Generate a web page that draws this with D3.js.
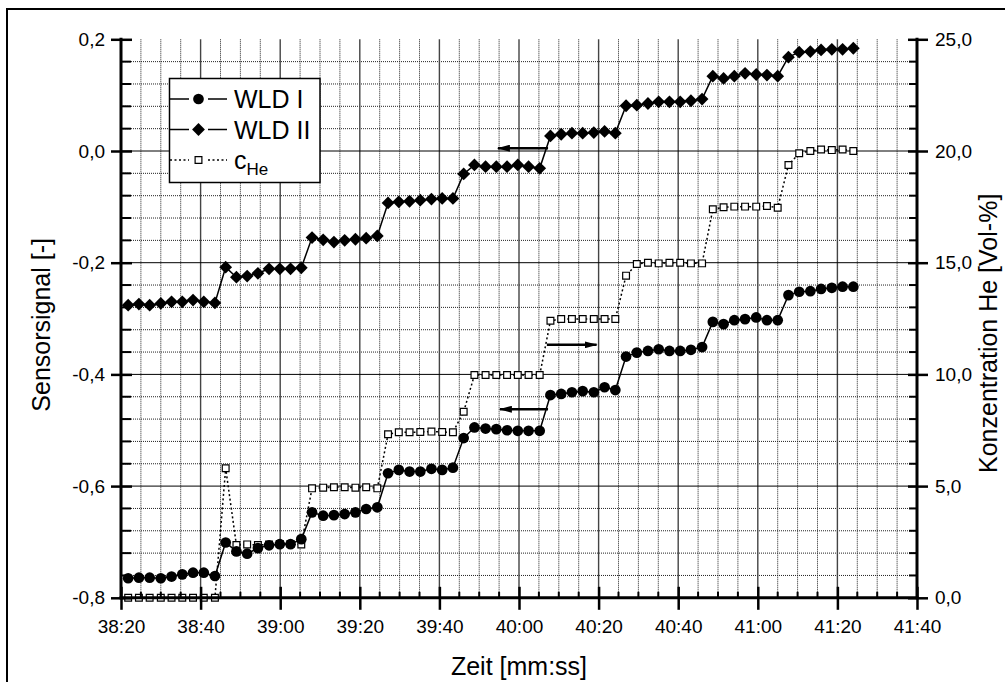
<!DOCTYPE html>
<html>
<head>
<meta charset="utf-8">
<script src="https://cdn.jsdelivr.net/npm/d3@7"></script>
<style>
  html, body { margin: 0; padding: 0; background: #fff; }
  svg { display: block; font-family: "Liberation Sans", Arial, sans-serif; }
</style>
</head>
<body>
<svg width="1005" height="682"></svg>
<script>
// Messzeitpunkte [s seit 0:00], 38:20 = 2300 s
const zeit = [
  2301.8, 2304.5, 2307.2, 2310.0, 2312.7, 2315.4, 2318.1, 2320.8, 2323.6,
  2326.3, 2329.0, 2331.7, 2334.4, 2337.2, 2339.9, 2342.6, 2345.3,
  2348.0, 2350.8, 2353.5, 2356.2, 2358.9, 2361.6, 2364.4,
  2367.1, 2369.8, 2372.5, 2375.2, 2378.0, 2380.7, 2383.4,
  2386.1, 2388.8, 2391.6, 2394.3, 2397.0, 2399.7, 2402.4, 2405.2,
  2407.9, 2410.6, 2413.3, 2416.0, 2418.8, 2421.5, 2424.2,
  2426.9, 2429.6, 2432.4, 2435.1, 2437.8, 2440.5, 2443.2, 2446.0,
  2448.7, 2451.4, 2454.1, 2456.8, 2459.6, 2462.3, 2465.0,
  2467.7, 2470.4, 2473.2, 2475.9, 2478.6, 2481.3, 2484.0
];

// Sensorsignal WLD I [-]
const wld1 = [
  -0.765, -0.764, -0.764, -0.765, -0.762, -0.758, -0.755, -0.755, -0.761,
  -0.701, -0.717, -0.721, -0.711, -0.706, -0.704, -0.704, -0.695,
  -0.647, -0.653, -0.652, -0.650, -0.647, -0.641, -0.638,
  -0.577, -0.571, -0.574, -0.574, -0.569, -0.571, -0.567,
  -0.514, -0.495, -0.497, -0.498, -0.500, -0.501, -0.501, -0.501,
  -0.437, -0.435, -0.432, -0.430, -0.432, -0.423, -0.428,
  -0.368, -0.361, -0.358, -0.355, -0.358, -0.358, -0.356, -0.351,
  -0.306, -0.310, -0.303, -0.301, -0.298, -0.303, -0.303,
  -0.258, -0.252, -0.251, -0.247, -0.245, -0.243, -0.243
];

// Sensorsignal WLD II [-]
const wld2 = [
  -0.276, -0.274, -0.276, -0.273, -0.270, -0.270, -0.267, -0.270, -0.272,
  -0.208, -0.226, -0.224, -0.219, -0.211, -0.211, -0.211, -0.209,
  -0.155, -0.159, -0.163, -0.160, -0.158, -0.156, -0.152,
  -0.093, -0.091, -0.090, -0.088, -0.086, -0.085, -0.085,
  -0.041, -0.025, -0.028, -0.028, -0.028, -0.025, -0.028, -0.031,
  0.027, 0.030, 0.032, 0.032, 0.033, 0.035, 0.032,
  0.081, 0.082, 0.085, 0.088, 0.088, 0.088, 0.090, 0.093,
  0.134, 0.130, 0.134, 0.139, 0.137, 0.136, 0.134,
  0.168, 0.177, 0.178, 0.181, 0.182, 0.182, 0.184
];

// Konzentration He [Vol-%]
const cHe = [
  0, 0, 0, 0, 0, 0, 0, 0, 0,
  5.80, 2.36, 2.39, 2.36, 2.39, 2.41, 2.41, 2.39,
  4.90, 4.93, 4.95, 4.95, 4.93, 4.95, 4.90,
  7.32, 7.41, 7.41, 7.42, 7.44, 7.42, 7.41,
  8.33, 9.97, 9.97, 9.97, 9.97, 9.97, 9.97, 9.97,
  12.40, 12.48, 12.48, 12.48, 12.48, 12.48, 12.48,
  14.42, 14.94, 15.00, 14.97, 15.00, 15.00, 14.97, 14.97,
  17.39, 17.48, 17.51, 17.51, 17.51, 17.54, 17.46,
  19.37, 19.90, 20.00, 20.07, 20.04, 20.07, 20.00
];

// Achsenbeschriftung
const zeitTicks = [2300, 2320, 2340, 2360, 2380, 2400, 2420, 2440, 2460, 2480, 2500];
const zeitLabels = ["38:20", "38:40", "39:00", "39:20", "39:40", "40:00", "40:20", "40:40", "41:00", "41:20", "41:40"];
const signalTicks = [0.2, 0.0, -0.2, -0.4, -0.6, -0.8];
const konzTicks = [0, 5, 10, 15, 20, 25];

// Pfeile: Zuordnung der Kurven zur Achse (Zeit von/bis, Wert auf linker Achse)
const pfeile = [
  { von: 2407.3, bis: 2394.7, wert: 0.005 },
  { von: 2407.0, bis: 2419.5, wert: -0.347 },
  { von: 2407.3, bis: 2395.2, wert: -0.4625 }
];

const svg = d3.select("svg");
const pLeft = 121, pRight = 917, pTop = 39.3, pBottom = 597.8;

const x = d3.scaleLinear().domain([2300, 2500]).range([pLeft, pRight]);
const yL = d3.scaleLinear().domain([-0.8, 0.2]).range([pBottom, pTop]);
const yR = d3.scaleLinear().domain([0, 25]).range([pBottom, pTop]);

const de = d3.formatLocale({ decimal: ",", thousands: ".", grouping: [3], currency: ["", " €"], minus: "-" });
const fmt = de.format(".1f");

// Rahmen
svg.append("rect")
  .attr("x", 7).attr("y", 9)
  .attr("width", 1100).attr("height", 800)
  .attr("fill", "none").attr("stroke", "#000").attr("stroke-width", 2);

// Gitter
const xMinor = d3.range(2300, 2501, 5).filter(d => (d - 2300) % 20 !== 0);
const yMinor = d3.range(-0.8, 0.2001, 0.04).filter(d => Math.abs(d * 5 - Math.round(d * 5)) > 1e-6);

const grid = svg.append("g");
grid.selectAll(".vmin").data(xMinor).enter().append("line")
  .attr("x1", d => x(d)).attr("x2", d => x(d))
  .attr("y1", pTop).attr("y2", pBottom)
  .attr("stroke", "#222").attr("stroke-width", 1).attr("stroke-dasharray", "1,1");
grid.selectAll(".hmin").data(yMinor).enter().append("line")
  .attr("x1", pLeft).attr("x2", pRight)
  .attr("y1", d => yL(d)).attr("y2", d => yL(d))
  .attr("stroke", "#222").attr("stroke-width", 1).attr("stroke-dasharray", "1,1");
grid.selectAll(".vmaj").data(zeitTicks.slice(1, -1)).enter().append("line")
  .attr("x1", d => x(d)).attr("x2", d => x(d))
  .attr("y1", pTop).attr("y2", pBottom)
  .attr("stroke", "#444").attr("stroke-width", 1.4);
grid.selectAll(".hmaj").data(signalTicks.slice(1, -1)).enter().append("line")
  .attr("x1", pLeft).attr("x2", pRight)
  .attr("y1", d => yL(d)).attr("y2", d => yL(d))
  .attr("stroke", "#000").attr("stroke-width", 1);

// Kurven
const lineL = vals => d3.line().x((d, i) => x(zeit[i])).y(d => yL(d))(vals);
const lineR = vals => d3.line().x((d, i) => x(zeit[i])).y(d => yR(d))(vals);

svg.append("path").attr("d", lineR(cHe))
  .attr("fill", "none").attr("stroke", "#000").attr("stroke-width", 1.5)
  .attr("stroke-dasharray", "2,2.5");
svg.append("path").attr("d", lineL(wld1))
  .attr("fill", "none").attr("stroke", "#000").attr("stroke-width", 1.5);
svg.append("path").attr("d", lineL(wld2))
  .attr("fill", "none").attr("stroke", "#000").attr("stroke-width", 1.5);

const circle = d3.symbol().type(d3.symbolCircle).size(90);
const diamond = d3.symbol().type(d3.symbolSquare).size(82);
const square = d3.symbol().type(d3.symbolSquare).size(46);

svg.append("g").selectAll("path").data(cHe).enter().append("path")
  .attr("d", square)
  .attr("transform", (d, i) => `translate(${x(zeit[i])},${yR(d)})`)
  .attr("fill", "#fff").attr("stroke", "#000").attr("stroke-width", 1.2);
svg.append("g").selectAll("path").data(wld1).enter().append("path")
  .attr("d", circle)
  .attr("transform", (d, i) => `translate(${x(zeit[i])},${yL(d)})`)
  .attr("fill", "#000");
svg.append("g").selectAll("path").data(wld2).enter().append("path")
  .attr("d", diamond)
  .attr("transform", (d, i) => `translate(${x(zeit[i])},${yL(d)}) rotate(45)`)
  .attr("fill", "#000");

// Pfeile
svg.append("defs").append("marker")
  .attr("id", "spitze").attr("viewBox", "0 0 13 7")
  .attr("refX", 12).attr("refY", 3.5)
  .attr("markerWidth", 13).attr("markerHeight", 7)
  .attr("markerUnits", "userSpaceOnUse").attr("orient", "auto")
  .append("path").attr("d", "M0,0L13,3.5L0,7Z").attr("fill", "#000");

svg.append("g").selectAll("line").data(pfeile).enter().append("line")
  .attr("x1", d => x(d.von)).attr("x2", d => x(d.bis))
  .attr("y1", d => yL(d.wert)).attr("y2", d => yL(d.wert))
  .attr("stroke", "#000").attr("stroke-width", 2.5)
  .attr("marker-end", "url(#spitze)");

// Achsen
const axisStyle = g => {
  g.select(".domain").remove();
  g.attr("font-family", null);
  g.selectAll("text").attr("font-size", 19).attr("fill", "#000");
  g.selectAll(".tick line").attr("stroke", "#000").attr("stroke-width", 2.5);
};

const gL = svg.append("g").attr("transform", `translate(${pLeft},0)`)
  .call(d3.axisLeft(yL).tickValues(signalTicks).tickFormat(fmt).tickSize(10).tickPadding(6))
  .call(axisStyle);
gL.selectAll(".tick line").attr("x1", 11);

const gR = svg.append("g").attr("transform", `translate(${pRight},0)`)
  .call(d3.axisRight(yR).tickValues(konzTicks).tickFormat(fmt).tickSize(11).tickPadding(7))
  .call(axisStyle);
gR.selectAll(".tick line").attr("x1", -9);

const gB = svg.append("g").attr("transform", `translate(0,${pBottom})`)
  .call(d3.axisBottom(x).tickValues(zeitTicks).tickFormat((d, i) => zeitLabels[i]).tickSize(12).tickPadding(10))
  .call(axisStyle);
gB.selectAll(".tick line").attr("y1", -11);

// Nebenstriche
const ticks = svg.append("g").attr("stroke", "#000").attr("stroke-width", 2);
ticks.selectAll(".tl").data(yMinor).enter().append("line")
  .attr("x1", pLeft).attr("x2", pLeft + 10)
  .attr("y1", d => yL(d)).attr("y2", d => yL(d));
ticks.selectAll(".tr").data(yMinor).enter().append("line")
  .attr("x1", pRight - 8).attr("x2", pRight)
  .attr("y1", d => yL(d)).attr("y2", d => yL(d));
ticks.selectAll(".tb").data(xMinor).enter().append("line")
  .attr("x1", d => x(d)).attr("x2", d => x(d))
  .attr("y1", pBottom - 6).attr("y2", pBottom);

// Achslinien
const axes = svg.append("g").attr("stroke", "#000").attr("stroke-width", 3).attr("stroke-linecap", "square");
axes.append("line").attr("x1", pLeft).attr("x2", pLeft).attr("y1", pTop).attr("y2", pBottom);
axes.append("line").attr("x1", pRight).attr("x2", pRight).attr("y1", pTop).attr("y2", pBottom);
axes.append("line").attr("x1", pLeft).attr("x2", pRight).attr("y1", pBottom).attr("y2", pBottom);

// Achstitel
svg.append("text")
  .attr("x", (pLeft + pRight) / 2).attr("y", 675)
  .attr("text-anchor", "middle").attr("font-size", 25)
  .text("Zeit [mm:ss]");
svg.append("text")
  .attr("transform", "translate(50,238) rotate(-90)")
  .attr("text-anchor", "end").attr("font-size", 25)
  .text("Sensorsignal [-]");
svg.append("text")
  .attr("transform", "translate(997,473) rotate(-90)")
  .attr("text-anchor", "start").attr("font-size", 25)
  .text("Konzentration He [Vol-%]");

// Legende
const legende = [
  { name: "WLD I", sym: circle, rot: 0, fill: "#000", dash: null },
  { name: "WLD II", sym: diamond, rot: 45, fill: "#000", dash: null },
  { name: "c", sub: "He", sym: square, rot: 0, fill: "#fff", dash: "2,2.5" }
];
const lg = svg.append("g");
lg.append("rect")
  .attr("x", 169.5).attr("y", 78.5).attr("width", 150.5).attr("height", 104)
  .attr("fill", "#fff").attr("stroke", "#000").attr("stroke-width", 1.5);
const row = lg.selectAll(".row").data(legende).enter().append("g")
  .attr("transform", (d, i) => `translate(170,${99 + i * 30.5})`);
row.selectAll("line").data(d => [[0, 19, d.dash], [38, 57, d.dash]]).enter().append("line")
  .attr("x1", s => s[0]).attr("x2", s => s[1]).attr("y1", 0).attr("y2", 0)
  .attr("stroke", "#000").attr("stroke-width", 1.5)
  .attr("stroke-dasharray", s => s[2]);
row.append("path")
  .attr("d", d => d.sym())
  .attr("transform", d => `translate(28.5,0) rotate(${d.rot})`)
  .attr("fill", d => d.fill).attr("stroke", d => d.fill === "#fff" ? "#000" : "none")
  .attr("stroke-width", 1.2);
const lt = row.append("text")
  .attr("x", 64).attr("y", 9).attr("font-size", 25)
  .text(d => d.name);
lt.filter(d => d.sub).append("tspan")
  .attr("font-size", 17).attr("dy", 6)
  .text(d => d.sub);
</script>
</body>
</html>
